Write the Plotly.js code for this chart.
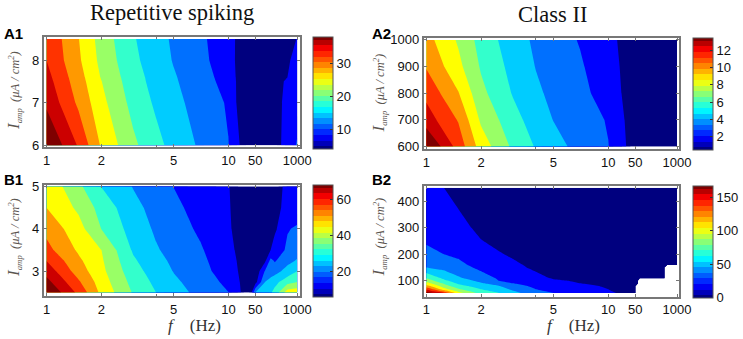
<!DOCTYPE html>
<html>
<head>
<meta charset="utf-8">
<script src="https://cdn.plot.ly/plotly-3.0.1.min.js"></script>
<style>html,body{margin:0;padding:0;background:#fff}#chart{width:743px;height:339px}</style>
</head>
<body>
<div id="chart"></div>
<script>
// ---------- data ----------
var tickFreqs = [1, 2, 5, 10, 50, 1000];
var tickFreqLabels = ['1', '2', '5', '10', '50', '1000'];
var minorFreqs = [4];

var fA = [1, 1.5, 2, 3, 4, 5, 7, 10, 20, 50, 200, 500, 1000];
var iampA1 = [6, 7, 7.5, 7.6, 8, 8.5];
var zA1 = [
  [40.0, 32.5, 25.7, 20.0, 16.9, 14.8, 12.0, 9.2, 5.6, 3.7, 4.3, 7.1, 9.4],
  [35.65, 28.82, 23.72, 18.18, 15.36, 13.45, 11.17, 8.73, 4.31, 3.32, 4.34, 6.72, 7.74],
  [34.3, 27.7, 22.8, 17.4, 14.7, 12.9, 10.7, 7.8, 4.6, 3.2, 4.0, 6.4, 7.2],
  [34.0, 27.5, 22.5, 17.3, 14.6, 12.8, 10.6, 7.6, 4.6, 3.1, 3.9, 5.7, 6.9],
  [32.9, 26.64, 21.78, 16.68, 14.06, 12.30, 10.19, 6.79, 4.85, 2.98, 3.66, 5.36, 6.55],
  [32.49, 26.2, 21.31, 16.21, 13.72, 12.02, 9.88, 6.62, 5.02, 3.32, 3.66, 4.68, 5.8]
];

var iampA2 = [600, 700, 800, 900, 1000];
var zA2 = [
  [14.26, 10.92, 8.29, 5.99, 4.85, 4.14, 3.22, 2.39, 1.54, 0.35, 0.27, 0.14, 0.08],
  [12.1, 10.06, 7.33, 5.42, 4.35, 3.62, 2.99, 2.25, 1.34, 0.4, 0.14, 0.08, 0.05],
  [11.1, 8.93, 6.6, 4.85, 3.88, 3.36, 2.74, 1.73, 1.12, 0.47, 0.2, 0.14, 0.08],
  [10.05, 7.9, 6.11, 4.53, 3.61, 3.17, 2.51, 1.49, 1.04, 0.53, 0.27, 0.2, 0.14],
  [9.34, 7.38, 5.77, 4.22, 3.43, 2.96, 2.26, 1.34, 0.96, 0.53, 0.34, 0.27, 0.2]
];

var fB1 = [1, 1.5, 2, 3, 4, 5, 7, 10, 20, 30, 40, 50, 100, 150, 200, 500, 1000];
var iampB1 = [2.5, 2.75, 3, 3.25, 3.5, 4, 4.5, 5];
var zB1 = [
  [71.4, 57.2, 44.8, 33.3, 27.7, 24.2, 19.6, 15.4, 9.5, 6.0, 9.1, 21.5, 24.0, 27.1, 29.6, 43.8, 44.4],
  [67.0, 53.4, 43.3, 31.8, 26.3, 22.7, 18.6, 13.8, 9.0, 6.0, 6.6, 6.6, 21.5, 24.3, 25.8, 31.4, 33.9],
  [62.6, 49.6, 41.8, 30.2, 24.8, 21.3, 17.6, 12.0, 8.5, 6.0, 5.4, 4.1, 15.9, 17.8, 19.0, 24.0, 27.7],
  [58.6, 47.5, 41.0, 28.6, 23.4, 20.4, 16.8, 11.3, 8.2, 6.0, 5.4, 4.8, 7.9, 17.2, 14.7, 19.6, 22.1],
  [54.5, 45.4, 40.2, 26.9, 22.1, 19.5, 16.0, 10.5, 7.9, 6.0, 5.4, 5.4, 5.4, 9.1, 12.2, 16.2, 19.0],
  [50.8, 42.5, 33.9, 25.1, 20.6, 18.2, 14.3, 9.7, 7.5, 6.0, 5.4, 5.1, 4.8, 6.0, 7.9, 15.0, 15.9],
  [46.3, 38.9, 31.7, 23.3, 19.4, 16.7, 13.1, 9.5, 7.2, 6.0, 5.4, 5.1, 4.8, 5.4, 6.6, 11.6, 12.8],
  [44.9, 35.3, 27.6, 21.2, 17.8, 15.2, 12.4, 9.3, 7.2, 6.0, 5.4, 5.1, 4.8, 5.4, 6.0, 11.0, 12.2]
];

var fB2 = [1, 1.25, 1.5, 2, 2.5, 3, 4, 5, 7, 10, 20, 50, 60, 70, 300, 400, 500, 1000];
var iampB2 = [54, 60, 70, 80, 90, 100, 110, 150, 160, 200, 250, 300, 450];
var zB2 = [
  [168.7, 142, 98.5, 68.5, 58.5, 47.6, 30.1, 25.05, 20, 11.7, 6.7, 3, null, null, null, null, null, null],
  [156.3, 120.2, 88, 63.5, 54.6, 43.4, 27.6, 23, 18.4, 10, 5, 2.5, null, null, null, null, null, null],
  [136.4, 95.2, 75.2, 56.8, 48.4, 37.2, 24.4, 20, 15, 8, 4.2, 2, null, null, null, null, null, null],
  [115.7, 82.8, 64.5, 50.1, 42.6, 31.1, 21.5, 16.7, 11.7, 6.7, 3.3, 1.7, null, null, null, null, null, null],
  [98.2, 72.6, 55.8, 43.4, 33.4, 25.05, 18.9, 13.4, 8.35, 5, 2.5, 1.5, 1.3, null, null, null, null, null],
  [84.8, 62.3, 50, 37.4, 24.9, 23, 16, 10.4, 6.7, 4.2, 2.5, 1.4, 1.2, null, null, null, null, null],
  [74, 54.6, 44, 31.6, 23.4, 21, 13.4, 6.7, 5, 3.3, 2, 1.3, 1.1, 1, 0.7, 0.6, null, null],
  [41.8, 37.2, 31.1, 21.5, 17.4, 13.2, 5, 4.2, 3.3, 2.5, 1.7, 1, 0.9, 0.8, 0.6, 0.5, null, null],
  [39.6, 34.7, 28.1, 20.2, 15.9, 11.4, 4.2, 3.7, 3.3, 1.7, 1.7, 1, 0.9, 0.8, 0.5, 0.4, 0.4, 0.3],
  [31.2, 25.05, 22.7, 15.2, 9.9, 5.8, 3.3, 3.3, 2.5, 1.7, 1.2, 0.8, 0.7, 0.6, 0.4, 0.4, 0.3, 0.3],
  [22.6, 21.7, 18.9, 9, 3.3, 2.5, 2.5, 2.5, 1.7, 1.7, 1, 0.7, 0.6, 0.5, 0.4, 0.3, 0.3, 0.2],
  [19.2, 18.4, 15, 3.3, 1.7, 1.7, 1.7, 1.7, 1.7, 0.8, 0.8, 0.6, 0.5, 0.4, 0.3, 0.3, 0.3, 0.2],
  [15.9, 8.35, 0.8, 0.8, 0.8, 0.8, 0.8, 0.8, 0.8, 0.8, 0.6, 0.5, 0.4, 0.4, 0.3, 0.3, 0.2, 0.2]
];

var bandColors = ['#00007f', '#0000ff', '#0070ff', '#00ccff', '#33ffcc', '#99ff66',
                  '#ffff00', '#ff9900', '#ff3300', '#cc0000', '#7f0000'];
var jet = [[0, '#00007f'], [0.11, '#0000ff'], [0.36, '#00ffff'], [0.62, '#ffff00'], [0.89, '#ff0000'], [1, '#7f0000']];

// ---------- the figure's broken frequency axis ----------
function xScale(f) {
  if (f <= 10) return Math.log10(f);
  if (f <= 50) return 1 + 0.148 * Math.log(f / 10) / Math.log(5);
  return 1.148 + 0.23 * Math.log(f / 50) / Math.log(20);
}

var W = 743, H = 339;
var panels = [
  {f: fA, I: iampA1, z: zA1, vmin: 4, vmax: 38, box: [44, 301.5, 37, 147], yr: [5.96, 8.547],
   yt: [6, 7, 8], cbt: [10, 20, 30], cb: [314.7, 37, 112], xr: [-0.0148, 1.395], xl: 0, yl: [14, 90], lab: ['A1', 2, 33]},
  {f: fA, I: iampA2, z: zA2, vmin: 0.4, vmax: 13.4, box: [425.5, 682, 37.5, 149], yr: [591, 1009],
   yt: [600, 700, 800, 900, 1000], cbt: [2, 4, 6, 8, 10, 12], cb: [696.2, 38.3, 112.4], xr: [-0.0137, 1.39], xl: 0, yl: [381, 93], lab: ['A2', 371, 33]},
  {f: fB1, I: iampB1, z: zB1, vmin: 6, vmax: 68, box: [44, 301.5, 184.7, 296], yr: [2.42, 5.04],
   yt: [3, 4, 5], cbt: [20, 40, 60], cb: [314.7, 185, 111.7], xr: [-0.0148, 1.395], xl: 195, yl: [14, 237], lab: ['B1', 2, 179]},
  {f: fB2, I: iampB2, z: zB2, vmin: 0, vmax: 167, box: [425.5, 682, 185.7, 296.7], yr: [39.8, 457.6],
   yt: [100, 200, 300, 400], cbt: [0, 50, 100, 150], cb: [696.2, 185.7, 111.6], xr: [-0.0137, 1.39], xl: 576, yl: [381, 237], lab: ['B2', 371, 179]}
];

var tickFont = {family: 'Liberation Sans, Arial, sans-serif', size: 13, color: '#111'};
var serif = 'Liberation Serif, Times New Roman, serif';
var frame = '#777';
var traces = [], layout = {
  width: W, height: H, margin: {l: 0, r: 0, t: 0, b: 0}, paper_bgcolor: '#fff', plot_bgcolor: '#fff',
  showlegend: false, annotations: [
    {text: 'Repetitive spiking', x: 173 / W, y: 1 - 12 / H, xanchor: 'center', yanchor: 'middle', xref: 'paper', yref: 'paper',
     showarrow: false, font: {family: serif, size: 22.5, color: '#111'}},
    {text: 'Class II', x: 555 / W, y: 1 - 14 / H, xanchor: 'center', yanchor: 'middle', xref: 'paper', yref: 'paper',
     showarrow: false, font: {family: serif, size: 22.5, color: '#111'}}
  ]
};

panels.forEach(function (p, i) {
  var s = i === 0 ? '' : String(i + 1);
  var xs = p.f.map(xScale);
  var step = (p.vmax - p.vmin) / 10;
  var fine = (p.vmax - p.vmin) / 20;
  var scale = bandColors.map(function (c, k) { return [k / 10, c]; });
  // finer-levelled layer underneath: supplies the panel's colour bar
  traces.push({
    type: 'contour', x: xs, y: p.I, z: p.z, xaxis: 'x' + s, yaxis: 'y' + s,
    autocontour: false, connectgaps: false, hoverinfo: 'skip',
    contours: {coloring: 'fill', showlines: false, start: p.vmin + fine / 2, end: p.vmax - fine / 2, size: fine},
    line: {width: 0, smoothing: 0}, colorscale: jet, showscale: true,
    colorbar: {
      x: p.cb[0] / W, xanchor: 'left', xpad: 0, thickness: 19.5, thicknessmode: 'pixels',
      y: 1 - p.cb[1] / H, yanchor: 'top', ypad: 0, len: p.cb[2], lenmode: 'pixels',
      outlinecolor: '#555', outlinewidth: 1, tickvals: p.cbt, ticks: 'inside', ticklen: 3,
      tickcolor: '#333', tickfont: tickFont, bgcolor: 'rgba(0,0,0,0)', borderwidth: 0
    }
  });
  // the coarse filled contours seen in the panel
  traces.push({
    type: 'contour', x: xs, y: p.I, z: p.z, xaxis: 'x' + s, yaxis: 'y' + s,
    autocontour: false, connectgaps: false, showscale: false, hoverinfo: 'skip',
    contours: {coloring: 'fill', showlines: false, start: p.vmin + step / 2, end: p.vmax - step / 2, size: step},
    line: {width: 0, smoothing: 0}, colorscale: scale
  });
  var common = {
    showline: true, linecolor: frame, linewidth: 2, mirror: 'ticks', ticks: 'inside', ticklen: 3,
    tickwidth: 1, tickcolor: frame, showgrid: false, zeroline: false, tickfont: tickFont
  };
  layout['xaxis' + s] = Object.assign({}, common, {
    domain: [p.box[0] / W, p.box[1] / W], range: p.xr, anchor: 'y' + s,
    tickmode: 'array', tickvals: tickFreqs.map(xScale), ticktext: tickFreqLabels, tickangle: 0,
    minor: {tickmode: 'array', tickvals: minorFreqs.map(xScale), ticks: 'inside', ticklen: 2, tickcolor: frame, tickwidth: 1, showgrid: false}
  });
  layout['yaxis' + s] = Object.assign({}, common, {
    domain: [1 - p.box[3] / H, 1 - p.box[2] / H], range: p.yr, anchor: 'x' + s,
    tickmode: 'array', tickvals: p.yt
  });
  layout.annotations.push({
    text: '<i><span style="font-size:17px">I</span><sub>amp</sub></i>\u00a0\u00a0<i>(\u03bcA / cm<sup>2</sup>)</i>',
    x: p.yl[0] / W, y: 1 - p.yl[1] / H, xanchor: 'center', yanchor: 'middle', textangle: -90,
    xref: 'paper', yref: 'paper', showarrow: false, font: {family: serif, size: 12.5, color: '#5b5550'}
  });
  if (p.xl) {
    layout.annotations.push({
      text: '<i>f</i>\u00a0\u00a0\u00a0\u00a0(Hz)', x: p.xl / W, y: 1 - 325 / H, xanchor: 'center', yanchor: 'middle',
      xref: 'paper', yref: 'paper', showarrow: false, font: {family: serif, size: 17, color: '#333'}
    });
  }
  layout.annotations.push({
    text: '<b>' + p.lab[0] + '</b>', x: p.lab[1] / W, y: 1 - p.lab[2] / H, xanchor: 'left', yanchor: 'middle',
    xref: 'paper', yref: 'paper', showarrow: false,
    font: {family: 'Liberation Sans, Arial, sans-serif', size: 15, color: '#000'}
  });
});

Plotly.newPlot('chart', traces, layout, {staticPlot: true, displayModeBar: false});
</script>
</body>
</html>
